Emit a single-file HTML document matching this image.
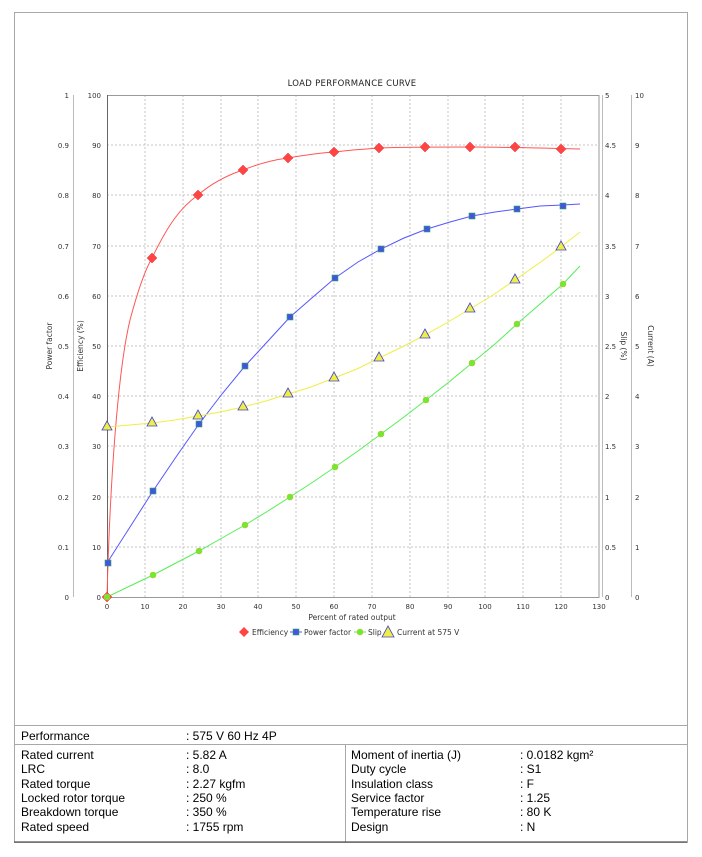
<!DOCTYPE html>
<html><head><meta charset="utf-8"><style>
body{margin:0;background:#fff;width:702px;height:857px;overflow:hidden}
svg text{font-family:"DejaVu Sans",sans-serif}
.t td{font-family:"Liberation Sans",Arial,sans-serif;font-size:12px}
</style></head><body>
<svg width="702" height="857" style="position:absolute;left:0;top:0" xmlns="http://www.w3.org/2000/svg">
<rect x="14.5" y="12.5" width="673" height="830" fill="none" stroke="#a8a8a8" stroke-width="1"/>
<text x="352" y="86" text-anchor="middle" font-size="8.5" fill="#222" letter-spacing="0.3">LOAD PERFORMANCE CURVE</text>
<g stroke="#c4c4c4" stroke-width="1" stroke-dasharray="2,2">
<line x1="145" y1="95" x2="145" y2="597"/><line x1="183" y1="95" x2="183" y2="597"/><line x1="221" y1="95" x2="221" y2="597"/><line x1="258" y1="95" x2="258" y2="597"/><line x1="296" y1="95" x2="296" y2="597"/><line x1="334" y1="95" x2="334" y2="597"/><line x1="372" y1="95" x2="372" y2="597"/><line x1="410" y1="95" x2="410" y2="597"/><line x1="448" y1="95" x2="448" y2="597"/><line x1="485" y1="95" x2="485" y2="597"/><line x1="523" y1="95" x2="523" y2="597"/><line x1="561" y1="95" x2="561" y2="597"/>
<line x1="107" y1="145" x2="599" y2="145"/><line x1="107" y1="195" x2="599" y2="195"/><line x1="107" y1="246" x2="599" y2="246"/><line x1="107" y1="296" x2="599" y2="296"/><line x1="107" y1="346" x2="599" y2="346"/><line x1="107" y1="396" x2="599" y2="396"/><line x1="107" y1="446" x2="599" y2="446"/><line x1="107" y1="497" x2="599" y2="497"/><line x1="107" y1="547" x2="599" y2="547"/>
</g>
<rect x="107.5" y="95.5" width="491.5" height="502" fill="none" stroke="#999"/>
<line x1="107.5" y1="95" x2="107.5" y2="597" stroke="#666"/>
<line x1="73.5" y1="95" x2="73.5" y2="597" stroke="#bbb"/>
<line x1="602.5" y1="95" x2="602.5" y2="597" stroke="#bbb"/>
<line x1="631.5" y1="95" x2="631.5" y2="597" stroke="#bbb"/>
<g font-size="7" fill="#333" text-anchor="end">
<text x="69" y="98">1</text><text x="69" y="148">0.9</text><text x="69" y="198">0.8</text><text x="69" y="249">0.7</text><text x="69" y="299">0.6</text><text x="69" y="349">0.5</text><text x="69" y="399">0.4</text><text x="69" y="449">0.3</text><text x="69" y="500">0.2</text><text x="69" y="550">0.1</text><text x="69" y="600">0</text>
<text x="101" y="98">100</text><text x="101" y="148">90</text><text x="101" y="198">80</text><text x="101" y="249">70</text><text x="101" y="299">60</text><text x="101" y="349">50</text><text x="101" y="399">40</text><text x="101" y="449">30</text><text x="101" y="500">20</text><text x="101" y="550">10</text><text x="101" y="600">0</text>
</g>
<g font-size="7" fill="#333">
<text x="605" y="98">5</text><text x="605" y="148">4.5</text><text x="605" y="198">4</text><text x="605" y="249">3.5</text><text x="605" y="299">3</text><text x="605" y="349">2.5</text><text x="605" y="399">2</text><text x="605" y="449">1.5</text><text x="605" y="500">1</text><text x="605" y="550">0.5</text><text x="605" y="600">0</text>
<text x="635" y="98">10</text><text x="635" y="148">9</text><text x="635" y="198">8</text><text x="635" y="249">7</text><text x="635" y="299">6</text><text x="635" y="349">5</text><text x="635" y="399">4</text><text x="635" y="449">3</text><text x="635" y="500">2</text><text x="635" y="550">1</text><text x="635" y="600">0</text>
</g>
<g font-size="7" fill="#333" text-anchor="middle">
<text x="107" y="609">0</text><text x="145" y="609">10</text><text x="183" y="609">20</text><text x="221" y="609">30</text><text x="258" y="609">40</text><text x="296" y="609">50</text><text x="334" y="609">60</text><text x="372" y="609">70</text><text x="410" y="609">80</text><text x="448" y="609">90</text><text x="485" y="609">100</text><text x="523" y="609">110</text><text x="561" y="609">120</text><text x="599" y="609">130</text>
<text x="352" y="620" font-size="7.5">Percent of rated output</text>
</g>
<g font-size="7.5" fill="#333" text-anchor="middle">
<text transform="translate(52,346) rotate(-90)">Power factor</text>
<text transform="translate(83,346) rotate(-90)">Efficiency (%)</text>
<text transform="translate(621,346) rotate(90)">Slip (%)</text>
<text transform="translate(648,346) rotate(90)">Current (A)</text>
</g>
<path d="M107,597 C110,480 118,370 130,320 C138,290 145,270 152,258 C168,225 180,208 198,195 C212,183 228,175 243,170 C258,164 272,160 288,158 C305,155 320,153 334,152 C350,150 365,149 379,148 C400,147 440,147 470,147 C500,147 540,148 580,149" fill="none" stroke="#f55" stroke-width="1"/>
<polyline points="107,563 130,527 153,491 176,457 199,424 222,394 245,366 268,341 290,317 313,297 335,278 358,262 381,249 404,238 427,229 450,222 472,216 495,212 517,209 540,206 563,205 580,204" fill="none" stroke="#55f" stroke-width="1"/>
<polyline points="107,597 130,586 153,575 176,563 199,551 222,538 245,525 268,511 290,497 313,482 335,467 358,451 381,434 404,417 426,400 449,382 472,363 495,344 517,324 540,304 563,284 580,266" fill="none" stroke="#5e5" stroke-width="1"/>
<polyline points="107,427 130,425 152,423 175,420 198,416 220,412 243,407 266,401 288,394 311,387 334,378 357,369 379,358 402,347 425,335 448,322 470,309 493,295 515,280 538,264 561,247 580,232" fill="none" stroke="#ee4" stroke-width="1"/>
<g fill="#f44" stroke="#e33" stroke-width="0.5">
<polygon points="107,592 112,597 107,602 102,597"/>
<polygon points="152,253 157,258 152,263 147,258"/><polygon points="198,190 203,195 198,200 193,195"/><polygon points="243,165 248,170 243,175 238,170"/><polygon points="288,153 293,158 288,163 283,158"/><polygon points="334,147 339,152 334,157 329,152"/><polygon points="379,143 384,148 379,153 374,148"/><polygon points="425,142 430,147 425,152 420,147"/><polygon points="470,142 475,147 470,152 465,147"/><polygon points="515,142 520,147 515,152 510,147"/><polygon points="561,144 566,149 561,154 556,149"/>
</g>
<g fill="#45d" stroke="#3a6" stroke-width="0.6">
<rect x="105" y="560" width="6" height="6"/><rect x="150" y="488" width="6" height="6"/><rect x="196" y="421" width="6" height="6"/><rect x="242" y="363" width="6" height="6"/><rect x="287" y="314" width="6" height="6"/><rect x="332" y="275" width="6" height="6"/><rect x="378" y="246" width="6" height="6"/><rect x="424" y="226" width="6" height="6"/><rect x="469" y="213" width="6" height="6"/><rect x="514" y="206" width="6" height="6"/><rect x="560" y="203" width="6" height="6"/>
</g>
<g fill="#6e3" stroke="#cb3" stroke-width="0.6">
<circle cx="107" cy="597" r="3"/><circle cx="153" cy="575" r="3"/><circle cx="199" cy="551" r="3"/><circle cx="245" cy="525" r="3"/><circle cx="290" cy="497" r="3"/><circle cx="335" cy="467" r="3"/><circle cx="381" cy="434" r="3"/><circle cx="426" cy="400" r="3"/><circle cx="472" cy="363" r="3"/><circle cx="517" cy="324" r="3"/><circle cx="563" cy="284" r="3"/>
</g>
<g fill="#ee4" stroke="#44c" stroke-width="0.8">
<polygon points="107,421 112,430 102,430"/><polygon points="152,417 157,426 147,426"/><polygon points="198,410 203,419 193,419"/><polygon points="243,401 248,410 238,410"/><polygon points="288,388 293,397 283,397"/><polygon points="334,372 339,381 329,381"/><polygon points="379,352 384,361 374,361"/><polygon points="425,329 430,338 420,338"/><polygon points="470,303 475,312 465,312"/><polygon points="515,274 520,283 510,283"/><polygon points="561,241 566,250 556,250"/>
</g>
<g font-size="7.5" fill="#333">
<polygon points="244,627 249,632 244,637 239,632" fill="#f44"/>
<text x="252" y="635">Efficiency</text>
<line x1="290" y1="632" x2="302" y2="632" stroke="#55f"/><rect x="293" y="629" width="6" height="6" fill="#45d" stroke="#3a6" stroke-width="0.6"/>
<text x="304" y="635">Power factor</text>
<line x1="354" y1="632" x2="366" y2="632" stroke="#5e5"/><circle cx="360" cy="632" r="3" fill="#6e3" stroke="#cb3" stroke-width="0.6"/>
<text x="368" y="635">Slip</text>
<polygon points="388,626 394,637 382,637" fill="#ee4" stroke="#44c" stroke-width="0.8"/>
<text x="397" y="635">Current at 575 V</text>
</g>
<line x1="14" y1="725.5" x2="687" y2="725.5" stroke="#a8a8a8"/>
<line x1="14" y1="744.5" x2="687" y2="744.5" stroke="#a8a8a8"/>
<line x1="345.5" y1="745" x2="345.5" y2="842" stroke="#a8a8a8"/>
<line x1="14" y1="842" x2="687" y2="842" stroke="#555" stroke-width="1.3"/>
<g font-family="Liberation Sans,Arial,sans-serif" font-size="12" fill="#000">
<text x="21" y="740" style="font-family:'Liberation Sans',Arial,sans-serif">Performance</text><text x="186" y="740" style="font-family:'Liberation Sans',Arial,sans-serif">: 575 V 60 Hz 4P</text>
</g>
<g style="font-family:'Liberation Sans',Arial,sans-serif" font-size="12" fill="#000">
<text x="21" y="759" style="font-family:'Liberation Sans',Arial,sans-serif">Rated current</text><text x="186" y="759" style="font-family:'Liberation Sans',Arial,sans-serif">: 5.82 A</text>
<text x="21" y="773" style="font-family:'Liberation Sans',Arial,sans-serif">LRC</text><text x="186" y="773" style="font-family:'Liberation Sans',Arial,sans-serif">: 8.0</text>
<text x="21" y="788" style="font-family:'Liberation Sans',Arial,sans-serif">Rated torque</text><text x="186" y="788" style="font-family:'Liberation Sans',Arial,sans-serif">: 2.27 kgfm</text>
<text x="21" y="802" style="font-family:'Liberation Sans',Arial,sans-serif">Locked rotor torque</text><text x="186" y="802" style="font-family:'Liberation Sans',Arial,sans-serif">: 250 %</text>
<text x="21" y="816" style="font-family:'Liberation Sans',Arial,sans-serif">Breakdown torque</text><text x="186" y="816" style="font-family:'Liberation Sans',Arial,sans-serif">: 350 %</text>
<text x="21" y="831" style="font-family:'Liberation Sans',Arial,sans-serif">Rated speed</text><text x="186" y="831" style="font-family:'Liberation Sans',Arial,sans-serif">: 1755 rpm</text>
<text x="351" y="759" style="font-family:'Liberation Sans',Arial,sans-serif">Moment of inertia (J)</text><text x="520" y="759" style="font-family:'Liberation Sans',Arial,sans-serif">: 0.0182 kgm²</text>
<text x="351" y="773" style="font-family:'Liberation Sans',Arial,sans-serif">Duty cycle</text><text x="520" y="773" style="font-family:'Liberation Sans',Arial,sans-serif">: S1</text>
<text x="351" y="788" style="font-family:'Liberation Sans',Arial,sans-serif">Insulation class</text><text x="520" y="788" style="font-family:'Liberation Sans',Arial,sans-serif">: F</text>
<text x="351" y="802" style="font-family:'Liberation Sans',Arial,sans-serif">Service factor</text><text x="520" y="802" style="font-family:'Liberation Sans',Arial,sans-serif">: 1.25</text>
<text x="351" y="816" style="font-family:'Liberation Sans',Arial,sans-serif">Temperature rise</text><text x="520" y="816" style="font-family:'Liberation Sans',Arial,sans-serif">: 80 K</text>
<text x="351" y="831" style="font-family:'Liberation Sans',Arial,sans-serif">Design</text><text x="520" y="831" style="font-family:'Liberation Sans',Arial,sans-serif">: N</text>
</g>
</svg>
</body></html>
